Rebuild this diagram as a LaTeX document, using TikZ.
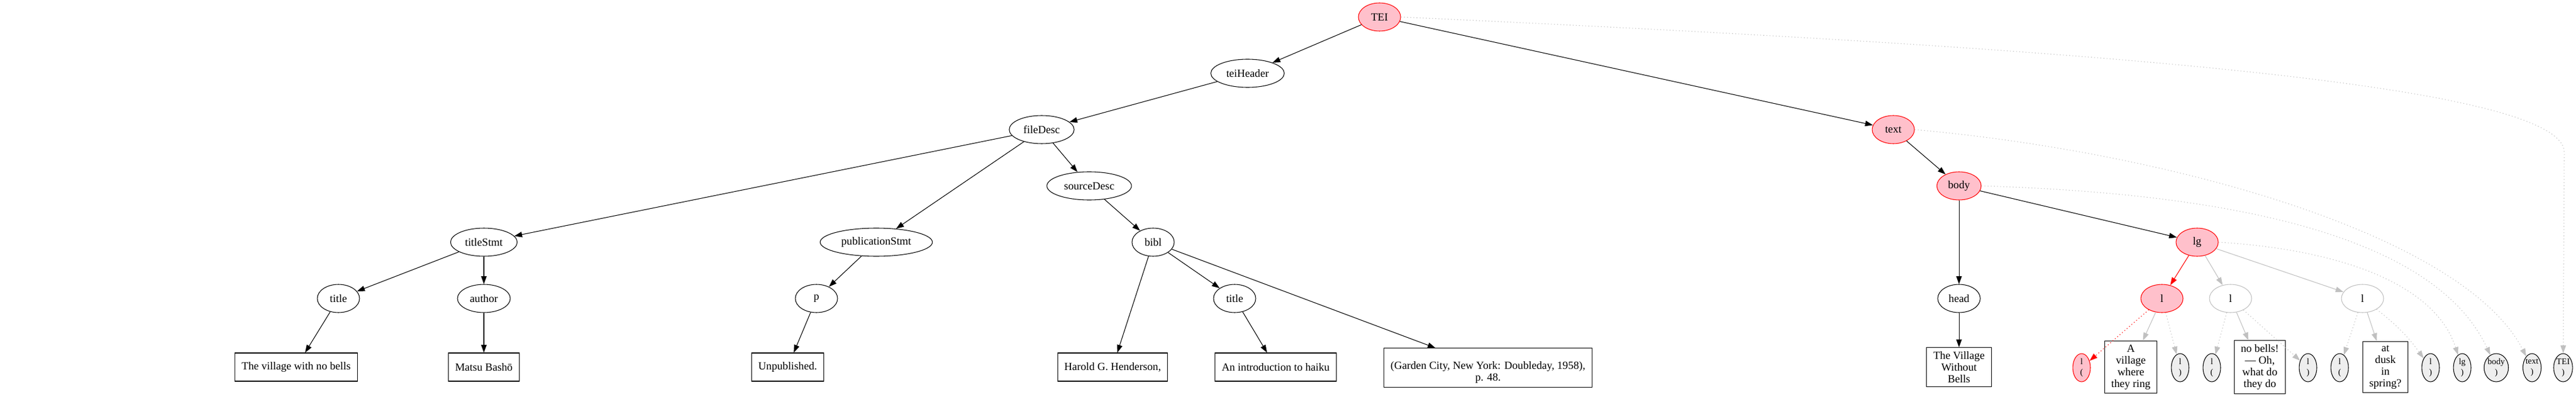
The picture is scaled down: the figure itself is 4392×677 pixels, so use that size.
\documentclass[tikz,border=0pt]{standalone}
\usepackage{fontspec}
\setmainfont{Liberation Serif}
\usetikzlibrary{shapes.geometric, arrows.meta}
\definecolor{hlpink}{HTML}{FFC0CB}
\definecolor{dimgray}{HTML}{C0C0C0}
\definecolor{leafgray}{HTML}{EEEEEE}

\begin{document}
\begin{tikzpicture}[x=0.75pt, y=-0.75pt,
        >={Triangle[length=10pt,width=7pt]},
        el/.style={ellipse, draw, line width=0.8pt, inner xsep=6pt, inner ysep=2pt,
            minimum width=54pt, minimum height=36pt, font=\fontsize{14}{15}\selectfont},
        hlel/.style={el, draw=red, fill=hlpink},
        dimel/.style={el, draw=dimgray, fill=white},
        txt/.style={rectangle, draw, line width=0.8pt, inner xsep=8.5pt, inner ysep=5pt,
            minimum height=36pt, align=center, font=\fontsize{14}{15}\selectfont},
        closer/.style={ellipse, draw, line width=0.8pt, fill=leafgray, inner sep=0pt,
            minimum width=22.5pt, minimum height=36pt, align=center, font=\fontsize{11}{13.5}\selectfont},
        hlcloser/.style={closer, draw=red, fill=hlpink},
        link/.style={->, line width=0.8pt},
        hllink/.style={link, draw=red},
        dimlink/.style={link, draw=dimgray},
        dotlink/.style={dimlink, dash pattern=on 1pt off 3pt},
        hldotlink/.style={hllink, dash pattern=on 1pt off 3pt}]
    \useasboundingbox (0,0) rectangle (4392,677);

    \node[hlel] (tei) at (2352,29) {TEI};
    \node[el] (teiHeader) at (2127,125) {teiHeader};
    \node[el] (fileDesc) at (1776,221) {fileDesc};
    \node[hlel] (text) at (3228,221) {text};
    \node[el] (sourceDesc) at (1857,317) {sourceDesc};
    \node[hlel] (body) at (3340,317) {body};
    \node[el] (titleStmt) at (825,413) {titleStmt};
    \node[el] (publicationStmt) at (1494,413) {publicationStmt};
    \node[el] (bibl) at (1966,413) {bibl};
    \node[hlel] (lg) at (3746,413) {lg};
    \node[el] (title) at (577,509) {title};
    \node[el] (author) at (825,509) {author};
    \node[el] (p) at (1392,509) {p};
    \node[el] (biblTitle) at (2105,509) {title};
    \node[el] (head) at (3340,509) {head};
    \node[hlel] (lA) at (3686,509) {l};
    \node[dimel] (lB) at (3803,509) {l};
    \node[dimel] (lC) at (4028,509) {l};

    \node[txt] (titleTxt) at (505,626) {The village with no bells};
    \node[txt] (authorTxt) at (825,626) {Matsu Bashō};
    \node[txt] (pTxt) at (1343,626) {Unpublished.};
    \node[txt] (biblTxt) at (1897,626) {Harold G. Henderson,};
    \node[txt] (biblTitleTxt) at (2175,626) {An introduction to haiku};
    \node[txt] (pubTxt) at (2537,627) {\phantom{p}\\(Garden City, New York: Doubleday, 1958),\\p. 48.};
    \node[txt] (headTxt) at (3340,626) {The Village\\Without\\Bells};
    \node[txt] (lATxt) at (3633,626) {A\\village\\where\\they ring};
    \node[txt] (lBTxt) at (3853,626) {no bells!\\— Oh,\\what do\\they do};
    \node[txt] (lCTxt) at (4067,626) {at\\dusk\\in\\spring?};

    \node[hlcloser] (lAOpen) at (3549,627) {l\\(};
    \node[closer] (lAClose) at (3717,627) {l\\)};
    \node[closer] (lBOpen) at (3771,627) {l\\(};
    \node[closer] (lBClose) at (3935,627) {l\\)};
    \node[closer] (lCOpen) at (3989,627) {l\\(};
    \node[closer] (lCClose) at (4144,627) {l\\)};
    \node[closer] (lgClose) at (4198,627) {lg\\)};
    \node[closer] (bodyClose) at (4256,627) {body\\)};
    \node[closer] (textClose) at (4317,627) {text\\)};
    \node[closer] (teiClose) at (4370,627) {TEI\\)};

    \draw[link] (tei) -- (teiHeader);
    \draw[link] (tei) -- (text);
    \draw[link] (teiHeader) -- (fileDesc);
    \draw[link] (fileDesc) -- (titleStmt);
    \draw[link] (fileDesc) -- (publicationStmt);
    \draw[link] (fileDesc) -- (sourceDesc);
    \draw[link] (sourceDesc) -- (bibl);
    \draw[link] (titleStmt) -- (title);
    \draw[link] (titleStmt) -- (author);
    \draw[link] (title) -- (titleTxt);
    \draw[link] (author) -- (authorTxt);
    \draw[link] (publicationStmt) -- (p);
    \draw[link] (p) -- (pTxt);
    \draw[link] (bibl) -- (biblTxt);
    \draw[link] (bibl) -- (biblTitle);
    \draw[link] (bibl) -- (pubTxt);
    \draw[link] (biblTitle) -- (biblTitleTxt);
    \draw[link] (text) -- (body);
    \draw[link] (body) -- (head);
    \draw[link] (body) -- (lg);
    \draw[link] (head) -- (headTxt);

    \draw[hllink] (lg) -- (lA);
    \draw[dimlink] (lg) -- (lB);
    \draw[dimlink] (lg) -- (lC);
    \draw[hldotlink] (lA) -- (lAOpen);
    \draw[dimlink] (lA) -- (lATxt);
    \draw[dotlink] (lA) -- (lAClose);
    \draw[dotlink] (lB) -- (lBOpen);
    \draw[dimlink] (lB) -- (lBTxt);
    \draw[dotlink] (lB) -- (lBClose);
    \draw[dotlink] (lC) -- (lCOpen);
    \draw[dimlink] (lC) -- (lCTxt);
    \draw[dotlink] (lC) to[bend left=8] (lCClose);

    \draw[dotlink] (lg.east) .. controls (3980,425) and (4150,480) .. (lgClose);
    \draw[dotlink] (body.east) .. controls (3800,330) and (4150,400) .. (bodyClose);
    \draw[dotlink] (text.east) .. controls (3700,260) and (4200,400) .. (textClose);
    \draw[dotlink] (tei.east) .. controls (3500,80) and (4372,140) .. (4372,260) -- (teiClose);
\end{tikzpicture}
\end{document}
